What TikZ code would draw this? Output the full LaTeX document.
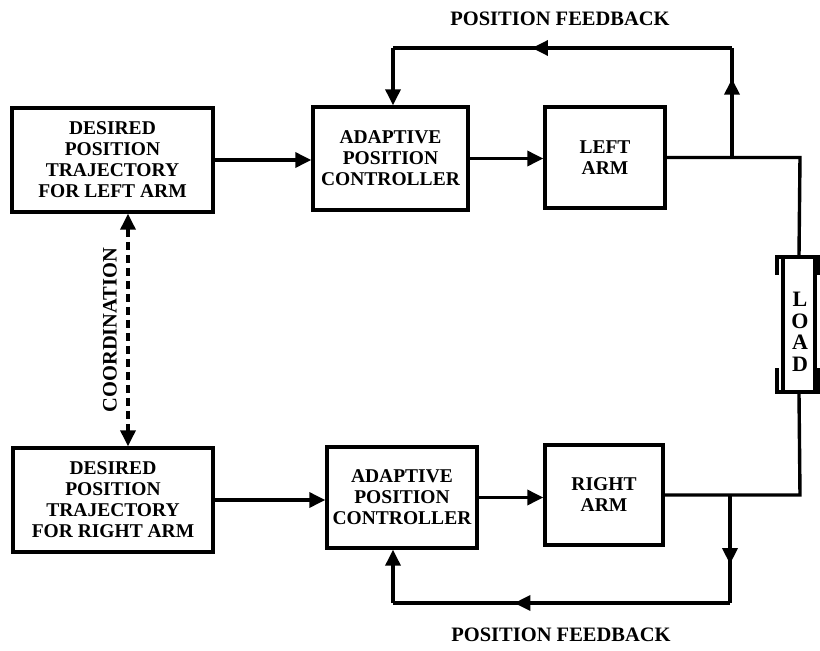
\documentclass[tikz,border=0pt]{standalone}
\usepackage{fontspec}
\setmainfont{Liberation Serif}
\usetikzlibrary{arrows.meta,decorations.markings}
\begin{document}
\begin{tikzpicture}[x=1pt,y=-1pt,
  line/.style={line width=3.4pt},
  tip/.style={-{Triangle[length=16pt,width=15pt]}},
  blk/.style={draw,line width=3.4pt,align=center,inner sep=1pt,
    font=\fontsize{19.5}{21}\selectfont\bfseries},
  lbl/.style={font=\fontsize{20.5}{22}\selectfont\bfseries,inner sep=0pt}]
\tikzset{midarrow/.style={postaction={decorate},decoration={markings,
  mark=at position #1 with {\arrow{Triangle[length=16pt,width=15pt]}}}}}
\useasboundingbox (0,0) rectangle (820,651);
% boxes
\node[blk,minimum width=201pt,minimum height=104pt] (TL) at (112.5,160) {DESIRED\\POSITION\\TRAJECTORY\\FOR LEFT ARM};
\node[blk,minimum width=155pt,minimum height=103pt] (TA) at (390.5,158.5) {ADAPTIVE\\POSITION\\CONTROLLER};
\node[blk,minimum width=120pt,minimum height=101pt] (LA) at (605,157.5) {LEFT\\ARM};
\node[blk,minimum width=200pt,minimum height=104pt] (BL) at (113,500) {DESIRED\\POSITION\\TRAJECTORY\\FOR RIGHT ARM};
\node[blk,minimum width=150pt,minimum height=101pt] (BA) at (402,497.5) {ADAPTIVE\\POSITION\\CONTROLLER};
\node[blk,minimum width=118pt,minimum height=100pt] (RA) at (604,495) {RIGHT\\ARM};
% load
\node[draw,line width=3.4pt,minimum width=32pt,minimum height=135pt,inner sep=0pt] (LOAD) at (799,324.5) {};
\node[align=center,inner sep=0pt,font=\fontsize{22}{21.5}\selectfont\bfseries] (LT) at (800,332) {L\\O\\A\\D};
\draw[line] (783,257) -- (777,257) -- (777,275);
\draw[line] (777,368) -- (777,392) -- (783,392);
\draw[line] (815,257) -- (819,257) -- (819,275);
\draw[line] (819,368) -- (819,392) -- (815,392);
% coordinates
\coordinate (lt) at (800,157.5);
\coordinate (jt) at (732,157.5);
\coordinate (jtop) at (732,48);
\coordinate (ftop) at (393,48);
\coordinate (rb) at (800,495);
\coordinate (jb) at (730,495);
\coordinate (jbot) at (730,603);
\coordinate (fbot) at (393,603);
\coordinate (cx) at (128,330);
% forward path
\draw[line,tip] (TL.east) -- (TL.east -| TA.west);
\draw[line,tip] (TA.east) -- (TA.east -| LA.west);
\draw[line,tip] (BL.east) -- (BL.east -| BA.west);
\draw[line,tip] (BA.east) -- (BA.east -| RA.west);
\draw[line] (LA.east) -- (lt) -- (LOAD.north);
\draw[line] (RA.east) -- (rb) -- (LOAD.south);
% feedback top
\draw[line,midarrow=0.72] (jt) -- (jtop);
\draw[line,midarrow=0.59] (jtop) -- (ftop);
\draw[line,tip] (ftop) -- (ftop |- TA.north);
% feedback bottom
\draw[line,midarrow=0.64] (jb) -- (jbot);
\draw[line,midarrow=0.64] (jbot) -- (fbot);
\draw[line,tip] (fbot) -- (fbot |- BA.south);
% coordination
\draw[line width=3.4pt,dash pattern=on 8pt off 5pt,{Triangle[length=16pt,width=15pt]}-{Triangle[length=16pt,width=15pt]}] (TL.south -| cx) -- (BL.north -| cx);
\node[lbl,rotate=90] (coord) at (110,330) {COORDINATION};
% labels
\node[lbl] (pft) at (560,19) {POSITION FEEDBACK};
\node[lbl] (pfb) at (561,635) {POSITION FEEDBACK};
\end{tikzpicture}
\end{document}
